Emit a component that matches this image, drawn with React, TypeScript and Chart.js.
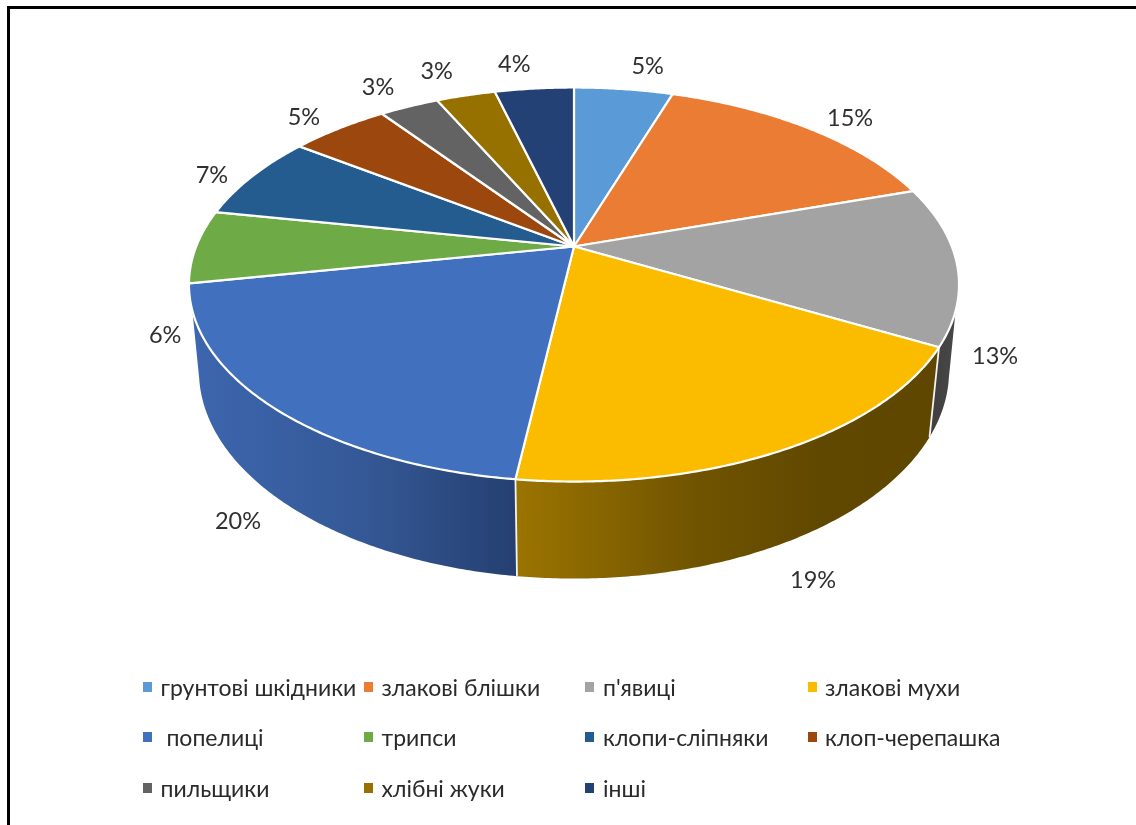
import React, { useEffect, useRef } from "react";
import { Chart, registerables } from "chart.js";

Chart.register(...registerables);

// Pest groups and their share of the total, in percent.
const categories = [
  "грунтові шкідники",
  "злакові блішки",
  "п'явиці",
  "злакові мухи",
  " попелиці",
  "трипси",
  "клопи-сліпняки",
  "клоп-черепашка",
  "пильщики",
  "хлібні жуки",
  "інші",
];
const shares = [5, 15, 13, 19, 20, 6, 7, 5, 3, 3, 4];
const sliceColors = [
  "#5A9AD6", "#EA7C33", "#A3A3A3", "#FBBC00", "#4170BF", "#6EAB46",
  "#255C90", "#9B470E", "#636363", "#967100", "#244176",
];

const FONT = '"Lato", "Open Sans", sans-serif';

// Perspective of the disc: a unit circle seen from above, near side enlarged.
const TOP_FACE = { cx: 574, cy: 246.5, a: 377.8, b: 189.7, k: 0.193 };
const BOTTOM_FACE = { cx: 574, cy: 331, a: 368, b: 199.8, k: 0.193 };
const DEG = Math.PI / 180;

type Face = typeof TOP_FACE;

function project(face: Face, angle: number): [number, number] {
  const u = Math.cos(angle);
  const v = Math.sin(angle);
  const d = 1 - face.k * v;
  return [face.cx + (face.a * u) / d, face.cy + (face.b * v) / d];
}

function traceRim(ctx: CanvasRenderingContext2D, face: Face, from: number, to: number, join: boolean) {
  const steps = Math.max(2, Math.ceil(Math.abs(to - from) / (0.5 * DEG)));
  for (let i = 0; i <= steps; i++) {
    const [x, y] = project(face, from + ((to - from) * i) / steps);
    if (i === 0 && !join) ctx.moveTo(x, y);
    else ctx.lineTo(x, y);
  }
}

// Rim ranges where the wall of the disc shows, clockwise from 12 o'clock.
const RIGHT_SILHOUETTE = { top: 108.5, bottom: 103 };
const LEFT_SILHOUETTE = { top: 251.5, bottom: 257 };

// Wall shading, per slice index, as [x position, colour] pairs.
const wallShades: Record<number, [number, string][]> = {
  2: [[930, "#3f3f3f"], [958, "#484848"]],
  3: [[517, "#9b7400"], [700, "#6f5300"], [820, "#614800"], [940, "#5f4700"]],
  4: [[190, "#3d66af"], [360, "#355997"], [517, "#253f70"]],
};

// Distance from each slice's rim midpoint to its percentage label.
const labelNudges: [number, number][] = [
  [24, -23], [41, -10.5], [38, 92], [32, 130], [-35, 114], [-31, 89],
  [-40, -1.5], [-35, -11], [-31, -19], [-29, -24], [-20, -24.5],
];

// Legend grid.
const legendSwatchX = [143, 364, 585, 808];
const legendTextX = [160.5, 381.5, 603, 825];
const legendRowY = [696, 746, 797];
const LEGEND_COLUMNS = 4;

const discPlugin = {
  id: "perspectiveDisc",
  beforeDatasetsDraw(chart: Chart) {
    const ctx = chart.ctx;
    const arcs = chart.getDatasetMeta(0).data as any[];
    const toClock = (a: number) => (a + Math.PI / 2) / DEG;
    const fromClock = (d: number) => d * DEG - Math.PI / 2;

    ctx.save();
    ctx.lineJoin = "round";

    // Walls first, so the top face overlaps their upper edge.
    Object.keys(wallShades).forEach((key) => {
      const index = Number(key);
      const arc = arcs[index];
      const start = toClock(arc.startAngle);
      const end = toClock(arc.endAngle);
      const topFrom = fromClock(Math.max(start, RIGHT_SILHOUETTE.top));
      const bottomFrom = fromClock(Math.max(start, RIGHT_SILHOUETTE.bottom));
      const topTo = fromClock(Math.min(end, LEFT_SILHOUETTE.top));
      const bottomTo = fromClock(Math.min(end, LEFT_SILHOUETTE.bottom));

      const shades = wallShades[index];
      const x0 = shades[0][0];
      const x1 = shades[shades.length - 1][0];
      const fill = ctx.createLinearGradient(x0, 0, x1, 0);
      shades.forEach(([x, color]) => fill.addColorStop((x - x0) / (x1 - x0), color));

      ctx.beginPath();
      traceRim(ctx, TOP_FACE, topFrom, topTo, false);
      traceRim(ctx, BOTTOM_FACE, bottomTo, bottomFrom, true);
      ctx.closePath();
      ctx.fillStyle = fill;
      ctx.fill();
    });

    // Seams between the walls.
    ctx.strokeStyle = "#f4f4f4";
    ctx.lineWidth = 1.8;
    [arcs[2].endAngle, arcs[3].endAngle].forEach((angle: number) => {
      const [x0, y0] = project(TOP_FACE, angle);
      const [x1, y1] = project(BOTTOM_FACE, angle);
      ctx.beginPath();
      ctx.moveTo(x0, y0);
      ctx.lineTo(x1, y1);
      ctx.stroke();
    });

    // Top face slices.
    arcs.forEach((arc, i) => {
      ctx.beginPath();
      ctx.moveTo(TOP_FACE.cx, TOP_FACE.cy);
      traceRim(ctx, TOP_FACE, arc.startAngle, arc.endAngle, true);
      ctx.closePath();
      ctx.fillStyle = sliceColors[i];
      ctx.fill();
      ctx.strokeStyle = "#ffffff";
      ctx.lineWidth = 2.2;
      ctx.stroke();
    });

    // Percentage labels.
    ctx.font = `23.5px ${FONT}`;
    ctx.fillStyle = "#303030";
    ctx.textAlign = "center";
    ctx.textBaseline = "middle";
    arcs.forEach((arc, i) => {
      const [x, y] = project(TOP_FACE, (arc.startAngle + arc.endAngle) / 2);
      ctx.fillText(`${shares[i]}%`, x + labelNudges[i][0], y + labelNudges[i][1]);
    });

    // Legend.
    ctx.font = `23px ${FONT}`;
    ctx.textAlign = "left";
    ctx.textBaseline = "alphabetic";
    categories.forEach((name, i) => {
      const col = i % LEGEND_COLUMNS;
      const row = Math.floor(i / LEGEND_COLUMNS);
      ctx.fillStyle = sliceColors[i];
      ctx.fillRect(legendSwatchX[col], legendRowY[row] - 14, 9, 10);
      ctx.fillStyle = "#2a2a2a";
      ctx.fillText(name, legendTextX[col], legendRowY[row]);
    });

    ctx.restore();
    // The slices are fully painted above, so the stock arcs are skipped.
    return false;
  },
};

export default function App() {
  const canvasRef = useRef<HTMLCanvasElement>(null);

  useEffect(() => {
    if (!canvasRef.current) return;
    const chart = new Chart(canvasRef.current, {
      type: "pie",
      data: {
        labels: categories,
        datasets: [{ data: shares, backgroundColor: sliceColors, borderColor: "#ffffff" }],
      },
      options: {
        animation: false,
        responsive: false,
        plugins: { legend: { display: false }, tooltip: { enabled: false } },
      },
      plugins: [discPlugin],
    });
    return () => chart.destroy();
  }, []);

  return (
    <div style={{ position: "absolute", left: 0, top: 0, width: 1136, height: 825, background: "#fff", overflow: "hidden" }}>
      <canvas ref={canvasRef} width={1136} height={825} style={{ position: "absolute", left: 0, top: 0 }} />
      <div style={{ position: "absolute", left: 7, top: 6, width: 1129, height: 3, background: "#000" }} />
      <div style={{ position: "absolute", left: 7, top: 6, width: 3, height: 819, background: "#000" }} />
    </div>
  );
}
